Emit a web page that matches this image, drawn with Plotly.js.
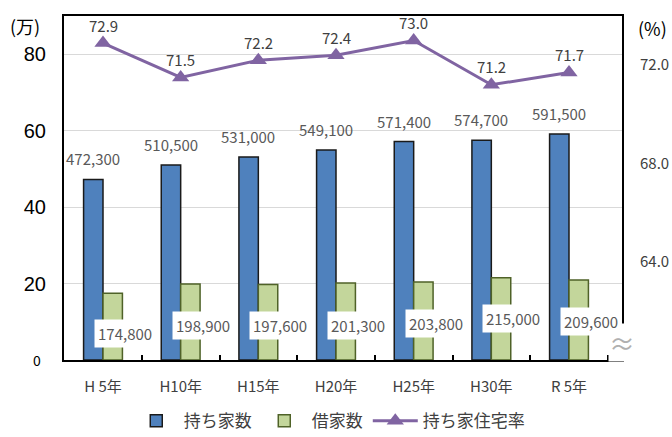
<!DOCTYPE html>
<html>
<head>
<meta charset="utf-8">
<script src="https://cdn.plot.ly/plotly-3.0.1.min.js"></script>
<style>html,body{margin:0;padding:0;background:#fff;}#chart{width:672px;height:437px;}</style>
</head>
<body>
<div id="chart"></div>
<script>
// ---- data ----
const categories = ["H 5年", "H10年", "H15年", "H20年", "H25年", "H30年", "R 5年"];
const ownedHouseholds = [472300, 510500, 531000, 549100, 571400, 574700, 591500];
const rentedHouseholds = [174800, 198900, 197600, 201300, 203800, 215000, 209600];
const ownershipRate = [72.9, 71.5, 72.2, 72.4, 73.0, 71.2, 71.7];
const leftTicks = [20, 40, 60, 80];
const rightTicks = [64, 68, 72];

// ---- styling ----
const jp = '"Noto Sans CJK JP", "Noto Sans", sans-serif';
const narrow = '"Liberation Sans Narrow", "Liberation Sans", Arial, sans-serif';
const grey = '#404040';
const greenLabelYShift = [-8, 0, 0, 0, 2, 7, 4];

const toMan = v => v / 10000;
const fmt = v => v.toLocaleString('en-US');

const traces = [
  {
    type: 'bar', name: '持ち家数', x: categories, y: ownedHouseholds.map(toMan),
    marker: {color: '#4f81bd', line: {color: '#1a1a1a', width: 1.5}},
    hoverinfo: 'skip'
  },
  {
    type: 'bar', name: '借家数', x: categories, y: rentedHouseholds.map(toMan),
    marker: {color: '#c3d69b', line: {color: '#4f6228', width: 1.5}},
    hoverinfo: 'skip'
  },
  {
    type: 'scatter', mode: 'lines+markers', name: '持ち家住宅率', x: categories, y: ownershipRate,
    yaxis: 'y2',
    line: {color: '#8064a2', width: 3},
    marker: {symbol: 'triangle-up', size: 15, color: '#8064a2'},
    hoverinfo: 'skip'
  }
];

const annotations = [];
// axis-break mark (drawn first so labels sit above it)
annotations.push({xref: 'paper', yref: 'paper', x: 1.0, y: 0.05, xanchor: 'center', yanchor: 'middle',
  text: '≈', showarrow: false, bgcolor: '#ffffff', borderpad: 0,
  font: {family: jp, size: 26, color: '#b0b0b0'}});
categories.forEach((c, i) => {
  annotations.push({
    x: c, y: toMan(ownedHouseholds[i]), xref: 'x', yref: 'y',
    text: fmt(ownedHouseholds[i]), showarrow: false,
    xshift: -10, yshift: 8, yanchor: 'bottom',
    font: {family: jp, size: 15, color: '#595959'}
  });
  annotations.push({
    x: c, y: 8.9, xref: 'x', yref: 'y',
    text: fmt(rentedHouseholds[i]), showarrow: false,
    xshift: 22, yshift: greenLabelYShift[i], yanchor: 'middle',
    bgcolor: '#ffffff', borderpad: 3,
    font: {family: jp, size: 15, color: '#595959'}
  });
  annotations.push({
    x: c, y: ownershipRate[i], xref: 'x', yref: 'y2',
    text: ownershipRate[i].toFixed(1), showarrow: false,
    yshift: 18, yanchor: 'middle',
    font: {family: jp, size: 15, color: grey}
  });
});
annotations.push({xref: 'paper', yref: 'paper', x: -0.1, y: 0.97, xanchor: 'left', yanchor: 'middle',
  text: '(万)', showarrow: false, font: {family: jp, size: 18, color: '#000'}});
annotations.push({xref: 'paper', yref: 'paper', x: 1.025, y: 0.965, xanchor: 'left', yanchor: 'middle',
  text: '(%)', showarrow: false, font: {family: jp, size: 18, color: '#000'}});
annotations.push({xref: 'paper', yref: 'y', x: -0.038, y: 0, xanchor: 'right', yanchor: 'middle',
  text: '0', showarrow: false, font: {family: jp, size: 14, color: '#000'}});

const layout = {
  width: 672, height: 437,
  margin: {l: 64, r: 50, t: 16, b: 77},
  paper_bgcolor: '#fff', plot_bgcolor: '#fff',
  barmode: 'group', bargap: 0.5, bargroupgap: 0,
  showlegend: true,
  legend: {orientation: 'h', xref: 'container', yref: 'container', x: 0.49, xanchor: 'center', y: 0.036, yanchor: 'middle',
    font: {family: jp, size: 17, color: grey}, traceorder: 'normal', itemwidth: 45},
  xaxis: {
    type: 'category', showline: true, linecolor: '#000', linewidth: 2, mirror: true,
    ticks: 'inside', tickson: 'boundaries', ticklen: 5, tickcolor: '#000', tickwidth: 2,
    ticklabelstandoff: 12,
    showgrid: false, tickfont: {family: jp, size: 15, color: grey}, fixedrange: true
  },
  yaxis: {
    range: [0, 90], tickvals: leftTicks, showgrid: true, gridcolor: '#d9d9d9', gridwidth: 1,
    showline: true, linecolor: '#000', linewidth: 2, mirror: true, zeroline: false,
    ticks: 'outside', ticklen: 12, tickcolor: 'rgba(0,0,0,0)',
    tickfont: {family: narrow, size: 20, color: '#000'}
  },
  yaxis2: {
    overlaying: 'y', side: 'right', range: [60, 74], tickvals: rightTicks, tickformat: '.1f',
    showgrid: false, zeroline: false, showline: false,
    ticks: 'outside', ticklen: 14, tickcolor: 'rgba(0,0,0,0)',
    tickfont: {family: jp, size: 15, color: grey}
  },
  annotations: annotations
};

Plotly.newPlot('chart', traces, layout, {staticPlot: true, displayModeBar: false});
</script>
</body>
</html>
